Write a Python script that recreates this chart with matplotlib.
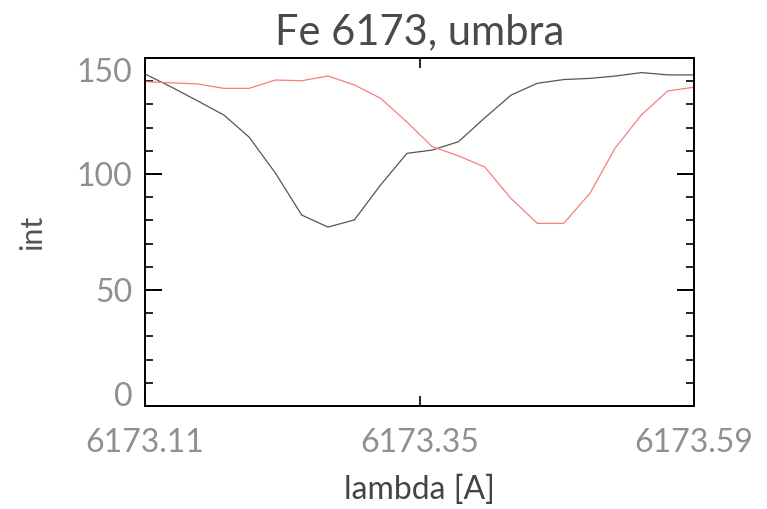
import matplotlib
matplotlib.use("Agg")
import matplotlib.pyplot as plt
from matplotlib.ticker import MultipleLocator

plt.rcParams["font.family"] = ["Lato", "DejaVu Sans"]

# wavelength samples across the Fe I 6173 line
wavelength = [
    6173.110, 6173.133, 6173.156, 6173.179, 6173.201, 6173.224,
    6173.247, 6173.270, 6173.293, 6173.316, 6173.339, 6173.361,
    6173.384, 6173.407, 6173.430, 6173.453, 6173.476, 6173.499,
    6173.521, 6173.544, 6173.567, 6173.590,
]
int_black = [
    143.1, 137.5, 131.5, 125.4, 115.9, 100.4, 82.3, 77.1, 80.2, 95.3, 108.9,
    110.3, 113.9, 124.2, 134.0, 139.1, 140.7, 141.2, 142.2, 143.7, 142.7, 142.7,
]
int_red = [
    139.8, 139.3, 138.8, 136.9, 136.9, 140.5, 140.2, 142.2, 138.4, 132.6, 122.4,
    111.8, 107.8, 103.0, 89.4, 78.7, 78.7, 91.7, 111.2, 125.5, 135.8, 137.4,
]
xticks = [6173.11, 6173.35, 6173.59]
xticklabels = ["6173.11", "6173.35", "6173.59"]
yticks = [0, 50, 100, 150]

fig = plt.figure(figsize=(7.67, 5.09), dpi=100)
ax = fig.add_axes([0.189, 0.2024, 0.716, 0.6837])

ax.plot(wavelength, int_black, color="#555555", lw=0.9)
ax.plot(wavelength, int_red, color="#f47f7f", lw=0.9)

ax.set_xlim(6173.11, 6173.59)
ax.set_ylim(0, 150)

for s in ax.spines.values():
    s.set_linewidth(1.4)
    s.set_color("black")

ax.set_xticks(xticks)
ax.set_xticklabels(xticklabels)
ax.set_yticks(yticks)
ax.yaxis.set_minor_locator(MultipleLocator(10))

ax.tick_params(axis="x", which="major", direction="in", length=7, width=1.2,
               top=True, bottom=True, labelsize=23, labelcolor="#8f8f8f", pad=16)
ax.tick_params(axis="y", which="major", direction="in", length=12, width=1.4,
               left=True, right=True, labelsize=23, labelcolor="#8f8f8f", pad=9)
ax.tick_params(axis="y", which="minor", direction="in", length=6, width=1.2,
               left=True, right=True)

# keep end labels inside the frame the way IDL does
ylabels = ax.get_yticklabels()
ylabels[0].set_va("baseline")
ylabels[-1].set_va("top")

ax.set_title("Fe 6173, umbra", fontsize=30, color="#4a4a4a", pad=10)
ax.set_xlabel("lambda [A]", fontsize=23, color="#444444", labelpad=12)
ax.set_ylabel("int", fontsize=22, color="#555555", labelpad=22)

fig.savefig("out.png", dpi=100)
